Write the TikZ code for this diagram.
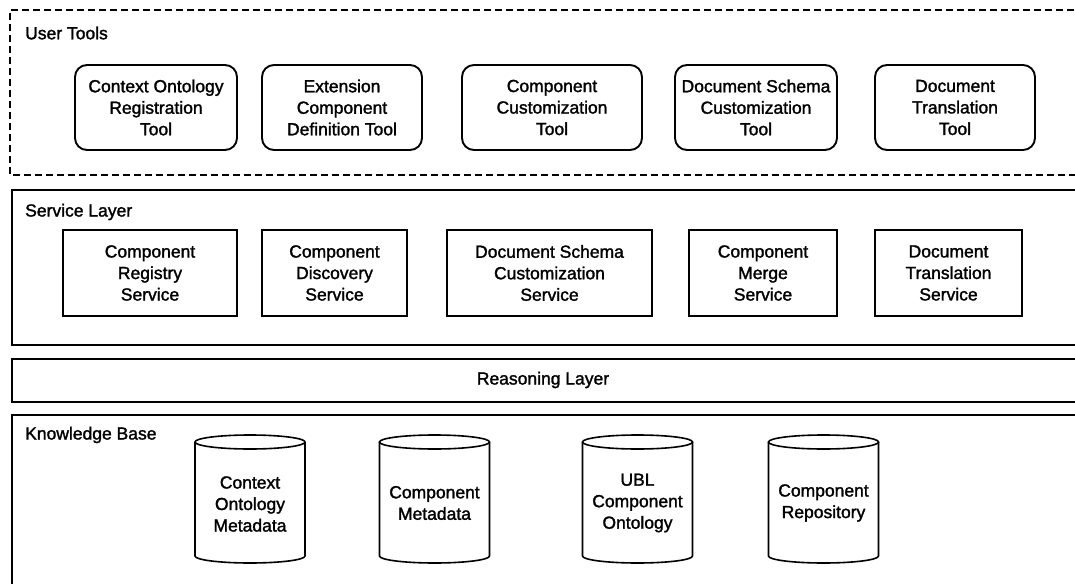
\documentclass[tikz,border=0pt]{standalone}
\usepackage{fontspec}
\setmainfont{Liberation Sans}[FakeBold=1.6]
\begin{document}
\begin{tikzpicture}[x=1pt,y=-1pt,
  txt/.style={font=\fontsize{17.5}{21.5}\selectfont},
  title/.style={txt, inner sep=0pt, anchor=west},
  tool/.style={txt, draw, line width=1.9pt, rounded corners=12pt, align=center,
               minimum height=85pt, inner sep=0pt},
  svc/.style={txt, draw, line width=1.5pt, align=center, minimum height=86pt, inner sep=0pt},
  layer/.style={line width=2.3pt},
  db/.style={txt, align=center, inner sep=0pt, minimum width=110pt},
  cyl/.style={line width=1.6pt}]
\useasboundingbox (0,0) rectangle (1075,583);
\clip (0,0) rectangle (1075,583);

% layer frames (open towards the right edge)
\draw[layer, dash pattern=on 7pt off 4pt] (1085,10) -- (10,10) -- (10,175) -- (1085,175);
\draw[layer] (1085,190) -- (12,190) -- (12,345) -- (1085,345);
\draw[layer] (1085,359) -- (12,359) -- (12,402) -- (1085,402);
\draw[layer] (1085,415) -- (12,415) -- (12,590);

% layer titles
\node[title] (ut) at (25,33) {User Tools};
\node[title] (sl) at (25,212) {Service Layer};
\node[txt, inner sep=0pt] (rl) at (543,380) {Reasoning Layer};
\node[title] (kb) at (25,435) {Knowledge Base};

% user tools
\node[tool, minimum width=162pt] (t1) at (156,107.5) {Context Ontology\\Registration\\Tool};
\node[tool, minimum width=160pt] (t2) at (342,107.5) {Extension\\Component\\Definition Tool};
\node[tool, minimum width=180pt] (t3) at (552,107.5) {Component\\Customization\\Tool};
\node[tool, minimum width=162pt] (t4) at (756,107.5) {Document Schema\\Customization\\Tool};
\node[tool, minimum width=160pt] (t5) at (955,107.5) {Document\\Translation\\Tool};

% services
\node[svc, minimum width=174pt] (s1) at (150,273) {Component\\Registry\\Service};
\node[svc, minimum width=145pt] (s2) at (334.5,273) {Component\\Discovery\\Service};
\node[svc, minimum width=205pt] (s3) at (549.5,273) {Document Schema\\Customization\\Service};
\node[svc, minimum width=148pt] (s4) at (763,273) {Component\\Merge\\Service};
\node[svc, minimum width=147pt] (s5) at (948.5,273) {Document\\Translation\\Service};

% knowledge stores: the label sits a little below the middle of each drum
\node[db] (d1) at (250,504) {Context\\Ontology\\Metadata};
\node[db] (d2) at (434.5,503) {Component\\Metadata};
\node[db] (d3) at (637.5,503) {UBL\\Component\\Ontology};
\node[db] (d4) at (823.5,503) {Component\\Repository};
\foreach \n/\dy in {d1/5,d2/4,d3/4,d4/4} {
  \draw[cyl] ([shift={(-55,-57-\dy)}]\n.center) -- ([shift={(-55,57-\dy)}]\n.center)
    arc[start angle=180, end angle=360, x radius=55pt, y radius=7pt]
    -- ([shift={(55,-57-\dy)}]\n.center);
  \draw[cyl] ([shift={(0,-57-\dy)}]\n.center) ellipse[x radius=55pt, y radius=7pt];
}
\end{tikzpicture}
\end{document}
